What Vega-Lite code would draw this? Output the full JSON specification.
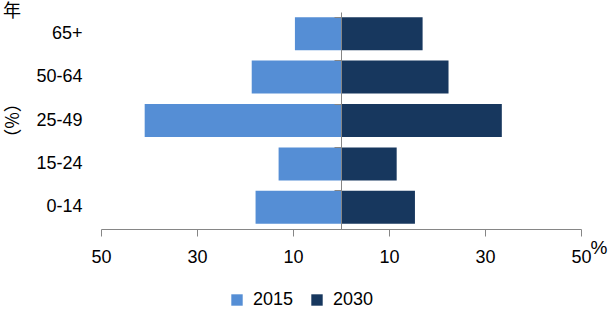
{
  "$schema": "https://vega.github.io/schema/vega-lite/v6.json",
  "width": 480,
  "height": 217,
  "autosize": {"type": "none"},
  "padding": {"left": 101, "top": 12, "right": 28, "bottom": 80},
  "background": "white",
  "title": {
    "text": "年",
    "anchor": "start",
    "frame": "group",
    "orient": "top",
    "dx": -98,
    "dy": 27,
    "offset": 0,
    "baseline": "bottom",
    "font": "Noto Sans CJK SC",
    "fontSize": 18,
    "fontWeight": "normal",
    "color": "#000000"
  },
  "data": {
    "values": [
      {"age": "65+", "year": "2015", "value": -9.6},
      {"age": "65+", "year": "2030", "value": 17.0},
      {"age": "50-64", "year": "2015", "value": -18.6},
      {"age": "50-64", "year": "2030", "value": 22.4},
      {"age": "25-49", "year": "2015", "value": -40.9},
      {"age": "25-49", "year": "2030", "value": 33.5},
      {"age": "15-24", "year": "2015", "value": -13.0},
      {"age": "15-24", "year": "2030", "value": 11.6},
      {"age": "0-14", "year": "2015", "value": -17.8},
      {"age": "0-14", "year": "2030", "value": 15.4}
    ]
  },
  "layer": [
    {
      "mark": {"type": "bar"},
      "encoding": {
        "y": {
          "field": "age",
          "type": "nominal",
          "sort": ["65+", "50-64", "25-49", "15-24", "0-14"],
          "scale": {"paddingInner": 0.24, "paddingOuter": 0.12},
          "axis": {
            "title": "（%）",
            "titleFont": "Noto Sans CJK SC",
            "titleFontSize": 18,
            "titleFontWeight": "normal",
            "titleColor": "#000000",
            "titleX": -88,
            "titleY": 108,
            "titleAlign": "center",
            "titleBaseline": "middle",
            "titleAngle": -90,
            "domain": false,
            "ticks": false,
            "labelPadding": 19,
            "labelFont": "Liberation Sans",
            "labelFontSize": 18,
            "labelColor": "#000000"
          }
        },
        "x": {
          "field": "value",
          "type": "quantitative",
          "scale": {"domain": [-50, 50], "nice": false, "zero": false},
          "axis": {
            "values": [-50, -30, -10, 10, 30, 50],
            "labelExpr": "abs(datum.value)",
            "grid": false,
            "domainColor": "#868686",
            "tickColor": "#868686",
            "tickSize": 7,
            "labelPadding": 12,
            "labelFont": "Liberation Sans",
            "labelFontSize": 18,
            "labelColor": "#000000",
            "labelFlush": false,
            "title": "%",
            "titleFont": "Liberation Sans",
            "titleFontSize": 19,
            "titleFontWeight": "normal",
            "titleColor": "#000000",
            "titleX": 489,
            "titleY": 24,
            "titleAlign": "left",
            "titleBaseline": "alphabetic"
          }
        },
        "color": {
          "field": "year",
          "type": "nominal",
          "scale": {"domain": ["2015", "2030"], "range": ["#558ED5", "#17375E"]},
          "legend": {
            "title": null,
            "orient": "none",
            "direction": "horizontal",
            "legendX": 127,
            "legendY": 279,
            "symbolType": "square",
            "symbolSize": 130,
            "symbolStrokeWidth": 0,
            "labelFont": "Liberation Sans",
            "labelFontSize": 18,
            "labelColor": "#000000",
            "labelOffset": 7,
            "columnPadding": 14
          }
        }
      }
    },
    {
      "mark": {"type": "bar", "opacity": 0},
      "encoding": {
        "y": {
          "field": "age",
          "type": "nominal",
          "sort": ["65+", "50-64", "25-49", "15-24", "0-14"],
          "axis": {
            "orient": "left",
            "offset": -240,
            "labels": false,
            "title": null,
            "domainColor": "#868686",
            "tickColor": "#868686",
            "tickSize": 7,
            "bandPosition": 0,
            "zindex": 2
          }
        },
        "x": {"field": "value", "type": "quantitative"}
      }
    }
  ],
  "resolve": {"axis": {"y": "independent"}},
  "config": {
    "view": {"stroke": null}
  }
}
